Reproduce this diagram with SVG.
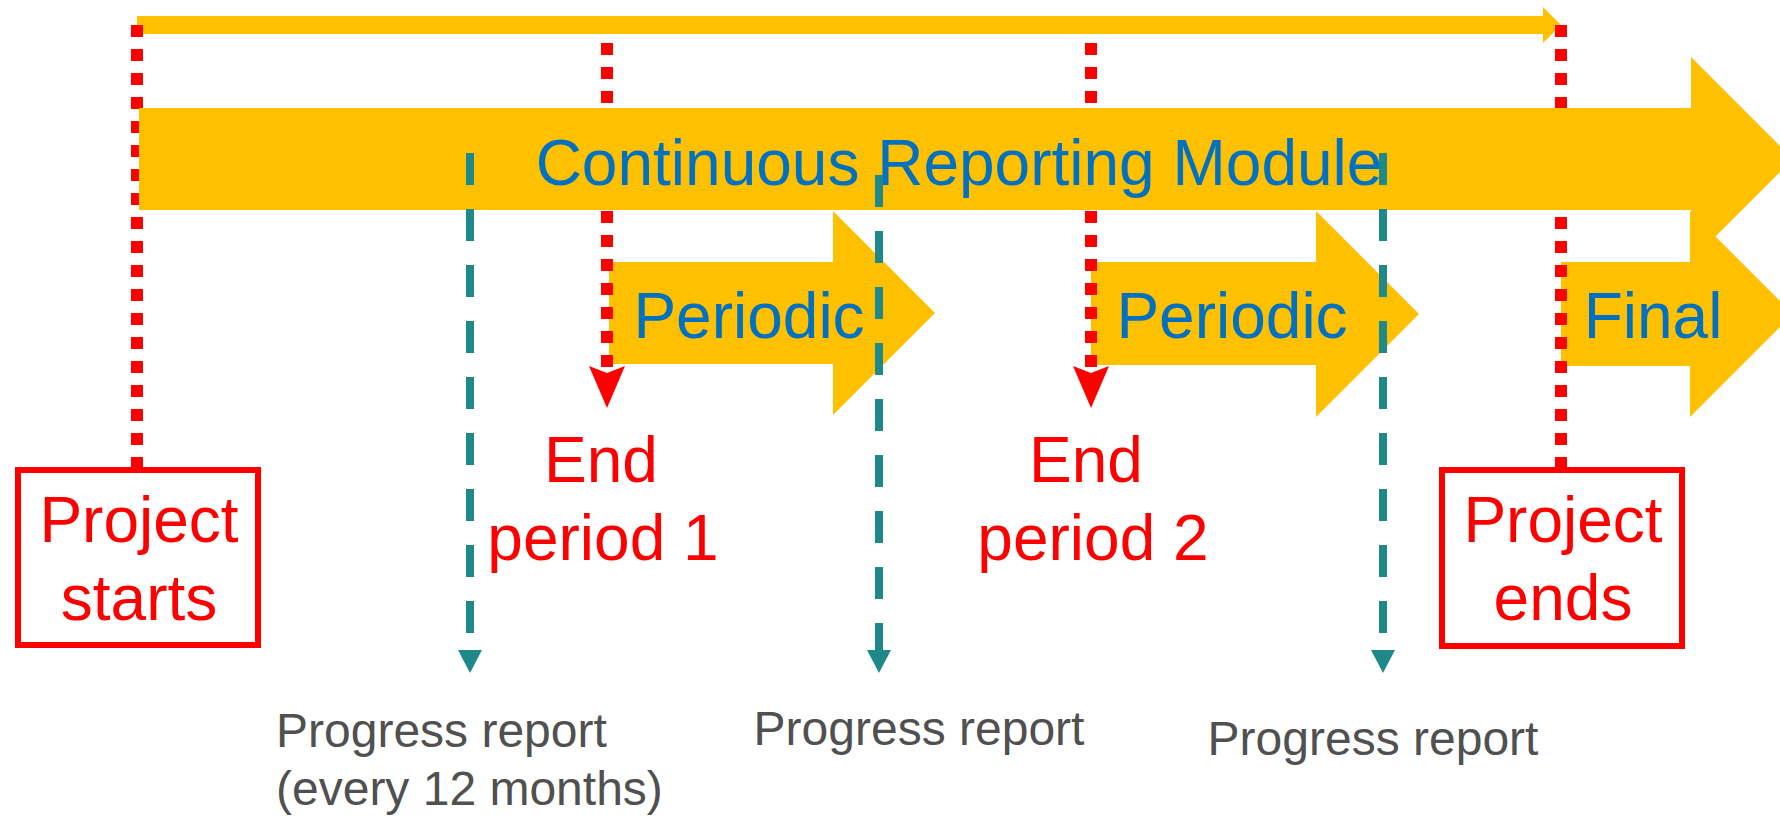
<svg xmlns="http://www.w3.org/2000/svg" width="1780" height="817" viewBox="0 0 1780 817">
<style>
.arrow{fill:#FFC000}
.lbl{font-family:"Liberation Sans",Arial,sans-serif;font-size:64px;fill:#0070C0;text-anchor:middle}
.red{font-family:"Liberation Sans",Arial,sans-serif;font-size:64px;fill:#FF0000;text-anchor:middle}
.gray{font-family:"Liberation Sans",Arial,sans-serif;font-size:48px;fill:#505050}
.dot{stroke:#FF0000;stroke-width:12;stroke-dasharray:12 12;fill:none}
.dash{stroke:#1F8888;stroke-width:8;stroke-dasharray:32 24;fill:none}
.box{fill:#FFFFFF;stroke:#FF0000;stroke-width:6}
</style>
<defs>
<marker id="tealHead" markerUnits="userSpaceOnUse" markerWidth="23" markerHeight="24" viewBox="0 -12 23 24" refX="0" refY="0" orient="auto">
<path d="M0,-12 L23,0 L0,12 Z" fill="#1F8888"/>
</marker>
<marker id="redHead" markerUnits="userSpaceOnUse" markerWidth="42" markerHeight="36" viewBox="-7 -18 42 36" refX="0" refY="0" orient="auto">
<path d="M-7,-18 L0,0 L-7,18 L35,0 Z" fill="#FF0000"/>
</marker>
</defs>

<g id="periodic1">
<path class="arrow" d="M609,262 H833 V211 L935,313 L833,415 V364 H609 Z"/>
</g>
<g id="periodic2">
<path class="arrow" d="M1091,262 H1316 V211 L1419,314 L1316,417 V365 H1091 Z"/>
</g>
<g id="final">
<path class="arrow" d="M1561,262 H1690 V211 L1793,314 L1690,417 V366 H1561 Z"/>
</g>
<g id="timeline">
<path class="arrow" d="M137,16 H1543 V7 L1561,25 L1543,43 V34 H137 Z"/>
</g>

<g id="connectors-red">
<line class="dot" x1="137" y1="25" x2="137" y2="468"/>
<line class="dot" x1="1561" y1="25" x2="1561" y2="468"/>
<line class="dot" x1="607" y1="43" x2="607" y2="373" marker-end="url(#redHead)"/>
<line class="dot" x1="1091" y1="43" x2="1091" y2="373" marker-end="url(#redHead)"/>
</g>

<g id="continuous">
<path class="arrow" d="M139,108 H1691 V57 L1793,159 L1691,261 V210 H139 Z"/>
</g>

<g id="labels-arrows">
<text class="lbl" x="959" y="185">Continuous Reporting Module</text>
<text class="lbl" x="749" y="338">Periodic</text>
<text class="lbl" x="1232" y="338">Periodic</text>
<text class="lbl" x="1653" y="338">Final</text>
</g>

<g id="project-starts">
<rect class="box" x="18" y="470" width="240" height="175"/>
<text class="red" x="139" y="542">Project</text>
<text class="red" x="139" y="620">starts</text>
</g>
<g id="project-ends">
<rect class="box" x="1442" y="470" width="240" height="176"/>
<text class="red" x="1563" y="542">Project</text>
<text class="red" x="1563" y="620">ends</text>
</g>
<g id="end-period-1">
<text class="red" x="601" y="482">End</text>
<text class="red" x="603" y="560">period 1</text>
</g>
<g id="end-period-2">
<text class="red" x="1086" y="482">End</text>
<text class="red" x="1093" y="560">period 2</text>
</g>

<g id="connectors-teal">
<line class="dash" x1="470" y1="153" x2="470" y2="650" marker-end="url(#tealHead)"/>
<line class="dash" x1="879" y1="175" x2="879" y2="650" marker-end="url(#tealHead)"/>
<line class="dash" x1="1383" y1="153" x2="1383" y2="650" marker-end="url(#tealHead)"/>
</g>

<g id="progress-1">
<text class="gray" x="276" y="747">Progress report</text>
<text class="gray" x="276" y="805">(every 12 months)</text>
</g>
<g id="progress-2">
<text class="gray" x="919" y="745" text-anchor="middle">Progress report</text>
</g>
<g id="progress-3">
<text class="gray" x="1373" y="755" text-anchor="middle">Progress report</text>
</g>
</svg>
